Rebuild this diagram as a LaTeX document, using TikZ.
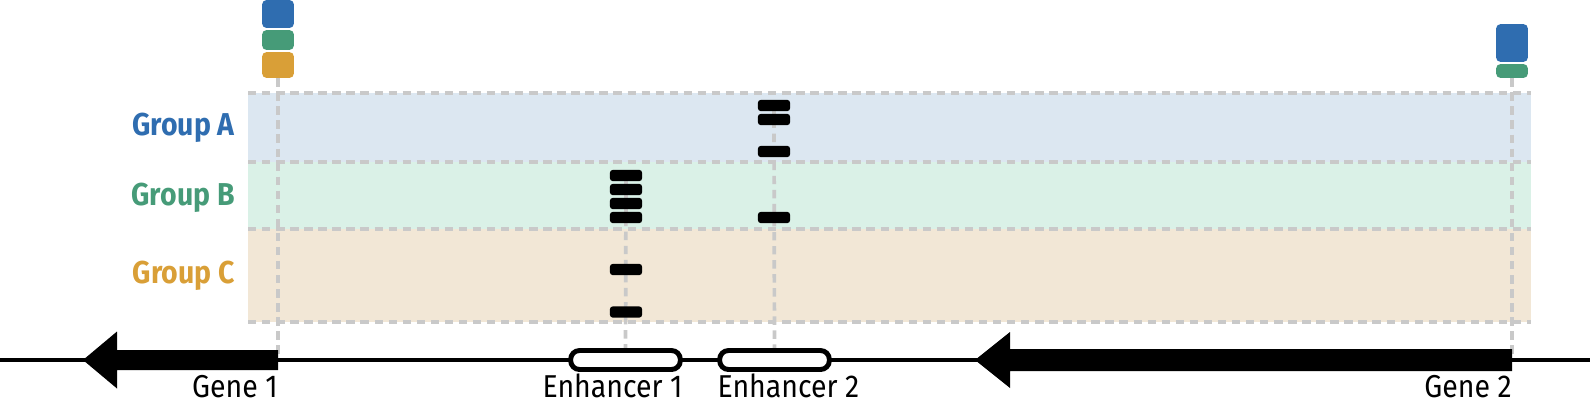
\documentclass[tikz,border=0pt]{standalone}
\usepackage{fontspec}
\setmainfont{Fira Sans}[FakeStretch=0.9]
\usetikzlibrary{positioning}

\definecolor{grpA}{HTML}{2F6DB0}
\definecolor{grpB}{HTML}{469B78}
\definecolor{grpC}{HTML}{D99F37}
\definecolor{bandA}{HTML}{DCE7F1}
\definecolor{bandB}{HTML}{DAF1E7}
\definecolor{bandC}{HTML}{F2E7D6}
\definecolor{gridgray}{HTML}{C9C9C9}

\tikzset{
  guide/.style={gridgray, line width=2.1pt, dash pattern=on 4.8pt off 3.2pt},
  chip/.style={rectangle, inner sep=0pt, minimum width=18.1pt, rounded corners=2.5pt},
  hit/.style={rectangle, fill=black, inner sep=0pt, minimum width=18.4pt, minimum height=6.5pt, rounded corners=1.8pt},
  enhbox/.style={rectangle, draw=black, fill=white, line width=2.8pt, inner sep=0pt, minimum width=62.4pt, minimum height=10.8pt, rounded corners=5pt},
  lbl/.style={font=\fontsize{18}{20}\selectfont, inner sep=0pt},
  grplbl/.style={font=\fontsize{18}{20}\selectfont\bfseries, inner sep=0pt, anchor=base east}
}

\begin{document}
\begin{tikzpicture}[x=0.02cm, y=-0.02cm]
\useasboundingbox (0,0) rectangle (1590,403);

% bands
\fill[bandA] (248,93) rectangle (1531,162);
\fill[bandB] (248,162) rectangle (1531,229);
\fill[bandC] (248,229) rectangle (1531,322);
\foreach \yy in {93,162,229,322}
  \draw[guide] (248,\yy) -- (1531,\yy);

\node[grplbl, text=grpA] (labA) at (235,135) {Group A};
\node[grplbl, text=grpB] (labB) at (235,205) {Group B};
\node[grplbl, text=grpC] (labC) at (235,283) {Group C};

% group chips above the genes
\node[chip, fill=grpA, minimum height=15.9pt] (g1A) at (278,14) {};
\node[chip, fill=grpB, minimum height=11.3pt] (g1B) at (278,40) {};
\node[chip, fill=grpC, minimum height=14.7pt] (g1C) at (278,65) {};
\node[chip, fill=grpA, minimum height=21.5pt] (g2A) at (1512,43) {};
\node[chip, fill=grpB, minimum height=7.9pt] (g2B) at (1512,71) {};

\coordinate (dna) at (0,360);
\coordinate (dnaend) at (1590,360);
\coordinate (e1) at (625.5,360);
\coordinate (e2) at (774.5,360);

% guides
\draw[guide] (g1C.south) -- (g1C.south |- dna);
\draw[guide] (g2B.south) -- (g2B.south |- dna);
\draw[guide] (626,175.5) -- (e1);
\draw[guide] (774,105.5) -- (e2);

% hits
\foreach \yy [count=\i] in {175.5,189.5,203.5,217.5,269.5,312}
  \node[hit] (e1h\i) at (626,\yy) {};
\foreach \yy [count=\i] in {105.5,119.5,151.5,217.5}
  \node[hit] (e2h\i) at (774,\yy) {};

% dna, enhancers and genes
\draw[line width=2.8pt] (dna) -- (dnaend);
\node[enhbox] (enh1) at (e1) {};
\node[enhbox] (enh2) at (e2) {};

\fill (278,350) -- (117,350) -- (117,331.5) -- (83,360) -- (117,388.5) -- (117,370) -- (278,370) -- cycle;
\fill (1512,349) -- (1010,349) -- (1010,332) -- (975,360) -- (1010,388) -- (1010,371) -- (1512,371) -- cycle;

\node[lbl, anchor=base east] (n1) at (278,397) {Gene 1};
\node[lbl, anchor=base east] (n2) at (1512,397) {Gene 2};
\node[lbl, anchor=base east] (n3) at (enh1.east |- 0,397) {Enhancer 1};
\node[lbl, anchor=base west] (n4) at (enh2.west |- 0,397) {Enhancer 2};
\end{tikzpicture}
\end{document}
